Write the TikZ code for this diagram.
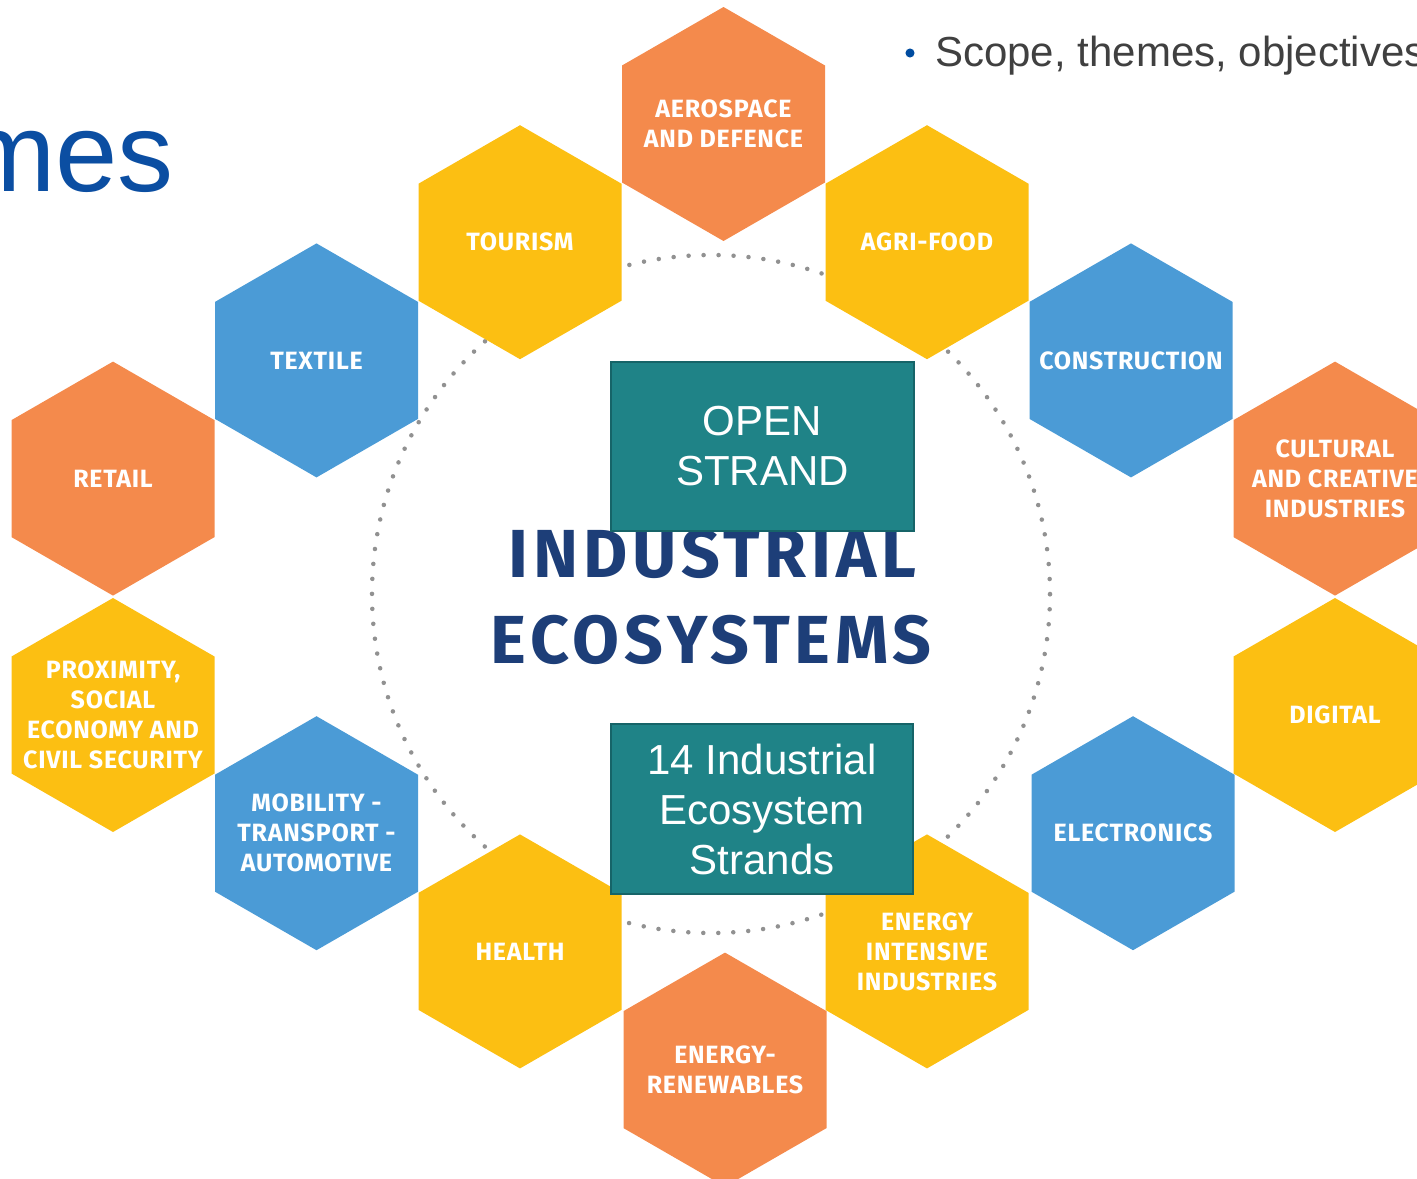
\documentclass[tikz,border=0pt]{standalone}
\usepackage{fontspec}
\setmainfont{Liberation Sans}
\newfontfamily\hexfont{Fira Sans}[LetterSpace=3]
\newfontfamily\bigfont{Fira Sans}[LetterSpace=7]
\definecolor{hexorange}{RGB}{244,138,76}
\definecolor{hexyellow}{RGB}{252,191,18}
\definecolor{hexblue}{RGB}{75,155,214}
\definecolor{tealbox}{RGB}{31,131,135}
\definecolor{tealedge}{RGB}{22,100,104}
\definecolor{navytxt}{RGB}{29,62,120}
\definecolor{titleblue}{RGB}{11,78,162}
\definecolor{bulletblue}{RGB}{0,76,160}
\definecolor{greytxt}{RGB}{64,64,64}
\definecolor{dotgrey}{RGB}{145,145,145}
\newcommand\hexa[5]{%
  \fill[#4] (#2,#3) ++(0,-117) -- ++(101.5,58.5) -- ++(0,117) -- ++(-101.5,58.5)
     -- ++(-101.5,-58.5) -- ++(0,-117) -- cycle;
  \node[hexlabel] (#1) at (#2,#3) {#5};}
\tikzset{
  hexlabel/.style={text=white, align=center, inner sep=0pt,
    font=\hexfont\bfseries\fontsize{18.75pt}{22.5pt}\selectfont},
  strandbox/.style={fill=tealbox, draw=tealedge, line width=1.5pt,
    minimum width=227pt, minimum height=127pt, text=white, align=center,
    inner sep=0pt, font=\fontsize{31.5pt}{37.5pt}\selectfont},
  bigword/.style={text=navytxt, anchor=base, inner sep=0pt,
    font=\bigfont\bfseries\fontsize{51pt}{60pt}\selectfont},
  dotring/.style={draw=dotgrey, line width=3.4pt, line cap=round,
    dash pattern=on 0pt off 11.25pt}
}
\begin{document}
\begin{tikzpicture}[x=0.75pt, y=-0.75pt]
\useasboundingbox (0,0) rectangle (1417,1178);
% title fragment and bullet text
\node[anchor=base west, inner sep=0pt, text=titleblue,
      font=\fontsize{84pt}{90pt}\selectfont] (title) at (-38,191) {mes};
\fill[bulletblue] (910,53) circle (3.4pt);
\node[anchor=base west, inner sep=0pt, text=greytxt,
      font=\fontsize{31.5pt}{36pt}\selectfont] (scope) at (935,66) {Scope, themes, objectives};
% dotted ring
\draw[dotring] (711,594) circle (254.25pt);
% hexagons
\hexa{aero}{723.5}{124}{hexorange}{AEROSPACE\\AND DEFENCE}
\hexa{tour}{520}{242.2}{hexyellow}{TOURISM}
\hexa{agri}{927}{242.2}{hexyellow}{AGRI-FOOD}
\hexa{texl}{316.5}{360.4}{hexblue}{TEXTILE}
\hexa{cons}{1131}{360.4}{hexblue}{CONSTRUCTION}
\hexa{reta}{113}{478.6}{hexorange}{RETAIL}
\hexa{cult}{1335}{478.6}{hexorange}{CULTURAL\\AND CREATIVE\\INDUSTRIES}
\hexa{prox}{113}{715}{hexyellow}{PROXIMITY,\\SOCIAL\\ECONOMY AND\\CIVIL SECURITY}
\hexa{digi}{1335}{715}{hexyellow}{DIGITAL}
\hexa{mobi}{316.5}{833.2}{hexblue}{MOBILITY -\\TRANSPORT -\\AUTOMOTIVE}
\hexa{elec}{1133}{833.2}{hexblue}{ELECTRONICS}
\hexa{heal}{520}{951.4}{hexyellow}{HEALTH}
\hexa{eint}{927}{951.4}{hexyellow}{ENERGY\\INTENSIVE\\INDUSTRIES}
\hexa{eren}{725}{1069.6}{hexorange}{ENERGY-\\RENEWABLES}
% central words
\node[bigword] (ind) at (712.5,577) {INDUSTRIAL};
\node[bigword] (eco) at (711,663) {ECOSYSTEMS};
% strand boxes
\node[strandbox] (open) at (762.5,446.5) {OPEN\\STRAND};
\node[strandbox] (fourteen) at (762,809) {14 Industrial\\Ecosystem\\Strands};
\end{tikzpicture}
\end{document}
